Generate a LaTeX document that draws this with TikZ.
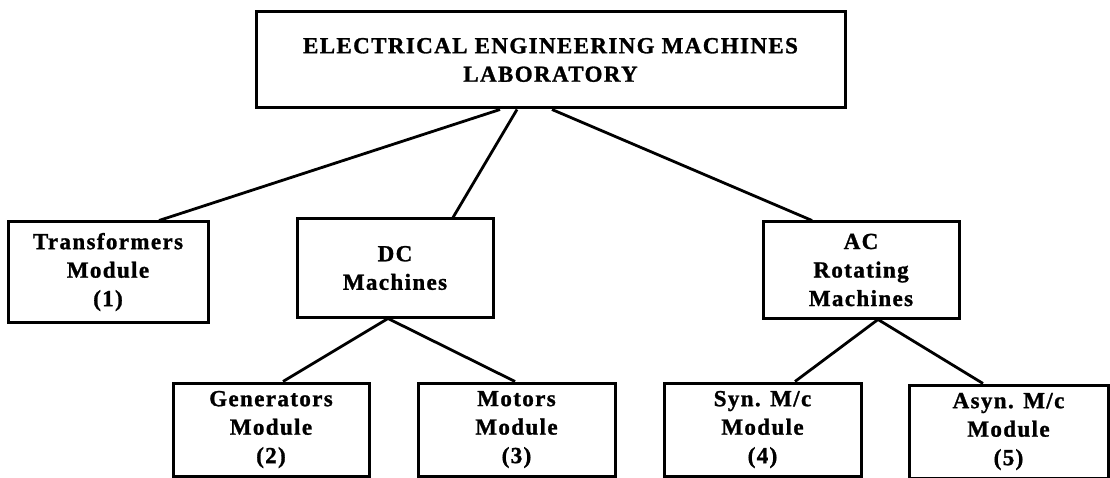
\documentclass[tikz,border=0pt]{standalone}
\usepackage{fontspec}
\setmainfont{Liberation Serif}[LetterSpace=6, BoldFeatures={FakeBold=1.2}]
\begin{document}
\begin{tikzpicture}[x=1pt,y=-1pt,
  box/.style={draw=black, line width=3pt, fill=white, inner sep=0pt, align=center,
    font=\bfseries\fontsize{23}{28.5}\selectfont},
  link/.style={draw=black, line width=2.8pt}]
\useasboundingbox (0,0) rectangle (1110,478);
\node[box, minimum width=589pt, minimum height=96pt] (top) at (550.5,60) {ELECTRICAL ENGINEERING MACHINES\\LABORATORY};
\node[box, minimum width=200pt, minimum height=100pt] (trans) at (108,272) {Transformers\\Module\\(1)};
\node[box, minimum width=196pt, minimum height=98pt] (dc) at (395,268) {DC\\Machines};
\node[box, minimum width=196pt, minimum height=96pt] (ac) at (861,270) {AC\\Rotating\\Machines};
\node[box, minimum width=196pt, minimum height=93pt] (gen) at (271,429.5) {Generators\\Module\\(2)};
\node[box, minimum width=197pt, minimum height=93pt] (mot) at (516.5,429.5) {Motors\\Module\\(3)};
\node[box, minimum width=197pt, minimum height=93pt] (syn) at (762.5,429.5) {Syn. M/c\\Module\\(4)};
\node[box, minimum width=199pt, minimum height=93pt] (asyn) at (1008.5,431.5) {Asyn. M/c\\Module\\(5)};
\draw[link] ([xshift=-50.5pt]top.south) -- ([xshift=51pt]trans.north);
\draw[link] ([xshift=-33.5pt]top.south) -- ([xshift=58pt]dc.north);
\draw[link] ([xshift=1.5pt]top.south) -- ([xshift=-49pt]ac.north);
\draw[link] ([xshift=-7pt]dc.south) -- ([xshift=12pt]gen.north);
\draw[link] ([xshift=-7pt]dc.south) -- ([xshift=-1.5pt]mot.north);
\draw[link] ([xshift=17pt]ac.south) -- ([xshift=32.5pt]syn.north);
\draw[link] ([xshift=17pt]ac.south) -- ([xshift=-25.5pt]asyn.north);
\end{tikzpicture}
\end{document}
